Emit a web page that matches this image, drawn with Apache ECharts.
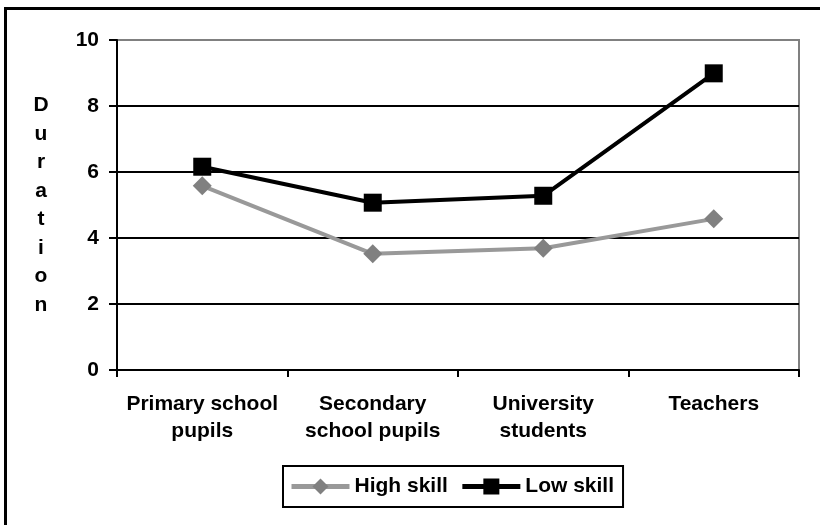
<!DOCTYPE html>
<html>
<head>
<meta charset="utf-8">
<script src="https://cdn.jsdelivr.net/npm/echarts@6/dist/echarts.min.js"></script>
<style>
  html, body { margin: 0; padding: 0; background: #fff; }
  #chart { width: 820px; height: 525px; }
</style>
</head>
<body>
<div id="chart"></div>
<script>
// Categories and series values
const categories = ['Primary school\npupils', 'Secondary\nschool pupils', 'University\nstudents', 'Teachers'];
const highSkill = [5.58, 3.52, 3.69, 4.58];
const lowSkill = [6.16, 5.07, 5.28, 8.99];
const yTicks = { min: 0, max: 10, interval: 2 };

const font = 'Liberation Sans, Arial, sans-serif';

const chart = echarts.init(document.getElementById('chart'), null, { renderer: 'canvas' });

chart.setOption({
  animation: false,
  backgroundColor: '#fff',
  textStyle: { fontFamily: font },
  graphic: [{
    type: 'rect',
    shape: { x: 5.5, y: 8.5, width: 830, height: 540 },
    style: { fill: 'none', stroke: '#000', lineWidth: 3 },
    silent: true
  }],
  grid: {
    left: 117, right: 21, top: 40, bottom: 155,
    show: true, borderColor: '#808080', borderWidth: 2, backgroundColor: 'transparent'
  },
  legend: {
    left: 283, top: 466,
    padding: [10, 9, 10, 6],
    borderColor: '#000', borderWidth: 2,
    itemWidth: 58, itemHeight: 20, itemGap: 12,
    lineStyle: { width: 5 },
    textStyle: { fontFamily: font, fontSize: 21, fontWeight: 'bold', color: '#000' },
    data: [
      { name: 'High skill', lineStyle: { width: 5 } },
      { name: 'Low skill', lineStyle: { width: 5 } }
    ]
  },
  xAxis: {
    type: 'category',
    data: categories,
    boundaryGap: true,
    axisLine: { lineStyle: { color: '#000', width: 2 } },
    axisTick: { show: true, length: 7, lineStyle: { color: '#000', width: 2 } },
    axisLabel: {
      interval: 0, margin: 21, color: '#000',
      fontFamily: font, fontSize: 21, fontWeight: 'bold', lineHeight: 27
    },
    splitLine: { show: false }
  },
  yAxis: {
    type: 'value',
    min: yTicks.min, max: yTicks.max, interval: yTicks.interval,
    name: 'D\nu\nr\na\nt\ni\no\nn',
    nameLocation: 'middle', nameRotate: 0, nameGap: 76,
    nameTextStyle: { fontFamily: font, fontSize: 21, fontWeight: 'bold', color: '#000', lineHeight: 28.5, align: 'center' },
    axisLine: { show: true, lineStyle: { color: '#000', width: 2 } },
    axisTick: { show: true, length: 8, lineStyle: { color: '#000', width: 2 } },
    axisLabel: { margin: 18, color: '#000', fontFamily: font, fontSize: 21, fontWeight: 'bold' },
    splitLine: { show: true, showMinLine: false, showMaxLine: false, lineStyle: { color: '#000', width: 2 } }
  },
  series: [
    {
      name: 'High skill',
      type: 'line',
      data: highSkill,
      symbol: 'diamond',
      symbolSize: 19,
      lineStyle: { color: '#999999', width: 4 },
      itemStyle: { color: '#808080' },
      z: 2
    },
    {
      name: 'Low skill',
      type: 'line',
      data: lowSkill,
      symbol: 'rect',
      symbolSize: 18,
      lineStyle: { color: '#000', width: 4 },
      itemStyle: { color: '#000' },
      z: 3
    }
  ]
});
</script>
</body>
</html>
